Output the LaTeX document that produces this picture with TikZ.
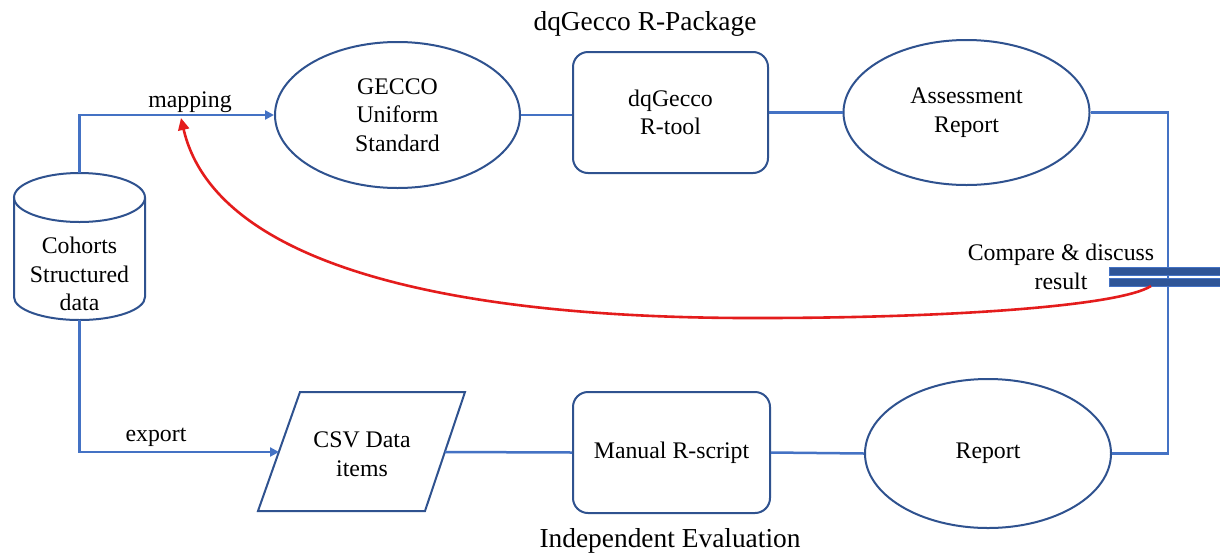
\documentclass[tikz,border=0pt]{standalone}
\usepackage{fontspec}
\setmainfont{Liberation Serif}
\usetikzlibrary{shapes.geometric,arrows.meta}
\definecolor{lineblue}{RGB}{68,114,196}
\definecolor{shapeblue}{RGB}{47,82,143}
\definecolor{barblue}{RGB}{47,85,151}
\definecolor{arrowred}{RGB}{228,28,28}
\tikzset{
  conn/.style={draw=lineblue, line width=2.5pt},
  tip/.style={-{Triangle[width=9pt,length=9pt]}},
  shapeb/.style={draw=shapeblue, line width=2pt},
  ell/.style={shapeb, ellipse, inner sep=0pt, align=center},
  rbox/.style={shapeb, rectangle, rounded corners=15pt, inner sep=0pt, align=center},
  txt/.style={inner sep=0pt, align=center},
  titletxt/.style={txt, font=\fontsize{27.4pt}{32pt}\selectfont},
  redarrow/.style={draw=arrowred, line width=2.6pt, -{Triangle[width=11pt,length=12pt]}}
}
\begin{document}
\begin{tikzpicture}[x=1pt,y=-1pt,font=\fontsize{23.8pt}{28.5pt}\selectfont]
\useasboundingbox (0,0) rectangle (1220,552);
\fill[white] (0,0) rectangle (1220,552);

% titles and labels
\node[titletxt, anchor=base] (title) at (645,30) {dqGecco R-Package};
\node[titletxt, anchor=base] (title2) at (670,547) {Independent Evaluation};
\node[txt, anchor=base] (maplbl) at (190,107) {mapping};
\node[txt, anchor=base] (explbl) at (156,441) {export};

% cylinder
\node[txt, minimum width=131pt, minimum height=147pt] (cyl) at (79.5,246.5) {};
\draw[shapeb] (79.5,197.5) ellipse[x radius=65.5pt, y radius=24.5pt];
\draw[shapeb] (14,197.5) -- (14,297) arc[start angle=180, end angle=360, x radius=65.5pt, y radius=23pt] -- (145,197.5);
\node[txt] (cyltxt) at (79.5,274) {Cohorts\\Structured\\data};

% top row
\node[ell, minimum width=245pt, minimum height=146pt] (gecco) at (397.5,115) {GECCO\\Uniform\\Standard};
\node[rbox, minimum width=195pt, minimum height=121pt] (dqtool) at (670.5,112.5) {dqGecco\\R-tool};
\node[ell, minimum width=246pt, minimum height=145pt] (assess) at (966.5,112.5) {Assessment\\Report};

% bottom row
\coordinate (p1) at (258,511);
\coordinate (p2) at (425,511);
\coordinate (p3) at (465,392);
\coordinate (p4) at (300,392);
\draw[shapeb, line join=miter] (p1) -- (p2) -- (p3) -- (p4) -- cycle;
\node[txt] (csv) at (362,454) {CSV Data\\items};
\coordinate (csvW) at (279,452);
\coordinate (csvE) at (445,452);
\node[rbox, minimum width=197pt, minimum height=121pt] (manual) at (671.5,452.5) {Manual R-script};
\node[ell, minimum width=246pt, minimum height=149pt] (report) at (988,453.5) {Report};

% connectors
\draw[conn, tip] (cyl.north) |- (gecco.west);
\draw[conn, tip] (cyl.south) |- (csvW);
\draw[conn] (gecco.east) -- (gecco.east -| dqtool.west);
\draw[conn] (dqtool.east) -- (assess.west);
\coordinate (rx) at (1168,0);
\draw[conn] (assess.east) -| (rx |- report.east) -- (report.east);
\draw[conn] (csvE) -- (manual.west);
\draw[conn] (manual.east) -- (report.west);

% compare bars
\node[txt] (cmptxt) at (1061,267) {Compare \& discuss\\result};
\filldraw[fill=barblue, draw=lineblue, line width=0.8pt] (1109,267) rectangle (1221,275);
\filldraw[fill=barblue, draw=lineblue, line width=0.8pt] (1109,278.5) rectangle (1221,286.5);
\coordinate (cmp) at (1151,286);
\coordinate (maptip) at (181,118);

% red feedback arrow
\draw[redarrow] (cmp) .. controls (1120,306) and (950,318) .. (760,318)
                      .. controls (450,319) and (215,265) .. (maptip);
\end{tikzpicture}
\end{document}
